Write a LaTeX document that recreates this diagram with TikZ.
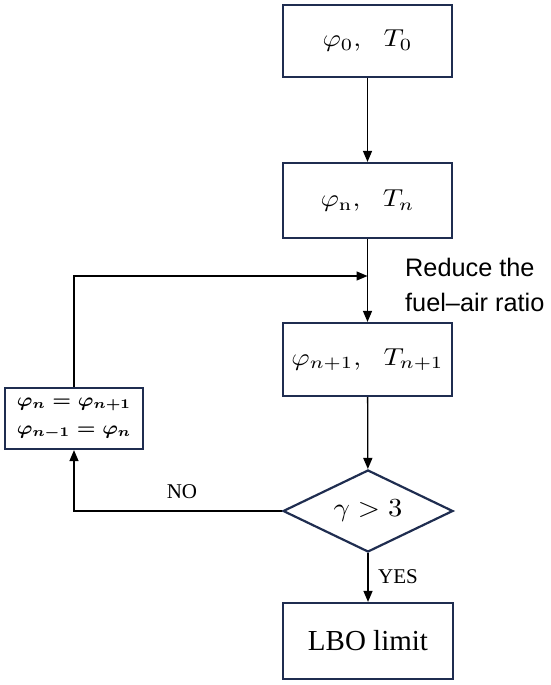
\documentclass[tikz,border=0pt]{standalone}
\usepackage{amsmath}
\usepackage{fontspec}
\newfontfamily\arialfont{Liberation Sans}
\newfontfamily\timesfont{Liberation Serif}
\usetikzlibrary{shapes.geometric,arrows.meta}
\definecolor{navy}{RGB}{31,45,80}
\begin{document}
\begin{tikzpicture}[x=1pt,y=-1pt,
  box/.style={draw=navy,line width=2.2pt,minimum width=169pt,inner sep=0pt},
  dia/.style={diamond,draw=navy,line width=2.2pt,minimum width=170pt,minimum height=82pt,aspect=2.07,inner sep=0pt},
  conn/.style={line width=1.3pt,-{Triangle[length=11pt,width=9pt]}},
  lbl/.style={font=\timesfont\fontsize{21}{24}\selectfont,inner sep=0pt}]
\useasboundingbox (0,0) rectangle (550,685);
\node[box,minimum height=72pt] (b0) at (367.5,41) {\scalebox{2.8}[2.45]{$\varphi_0$,\hspace{0.8em}$T_0$}};
\node[box,minimum height=75pt] (b1) at (367.5,200.5) {\scalebox{2.8}[2.45]{$\varphi_{\mathrm{n}}$,\hspace{0.8em}$T_n$}};
\node[box,minimum height=73pt] (b2) at (367.5,359.5) {\scalebox{2.8}[2.45]{$\varphi_{n+1}$,\hspace{0.8em}$T_{n+1}$}};
\node[dia] (d) at (368,511) {\scalebox{2.85}[2.6]{$\gamma > 3$}};
\node[box,minimum width=170pt,minimum height=76pt,font=\timesfont\fontsize{29}{32}\selectfont] (lbo) at (368,641) {LBO limit};
\node[box,minimum width=138pt,minimum height=61pt,align=center,font=\fontsize{10}{28}\selectfont] (lb) at (74,418.5) {\scalebox{2.1}[1.9]{\boldmath$\varphi_n = \varphi_{n+1}$}\\\scalebox{2.1}[1.9]{\boldmath$\varphi_{n-1} = \varphi_n$}};
\coordinate (m) at (367.5,276);
\node[anchor=north west,inner sep=0pt,align=left,font=\arialfont\fontsize{25.3}{35}\selectfont] (rt) at (405,258) {Reduce the\\fuel–air ratio};
\draw[conn] (b0) -- (b1);
\draw[conn] (b1) -- (b2);
\draw[conn] (lb.north) |- (m);
\draw[conn] (b2) -- (d);
\draw[conn] (d) -- (lbo);
\draw[conn] (d.west) -| (lb.south);
\node[lbl] (yes) at (398,577) {YES};
\node[lbl] (no) at (182,492) {NO};
\end{tikzpicture}
\end{document}
